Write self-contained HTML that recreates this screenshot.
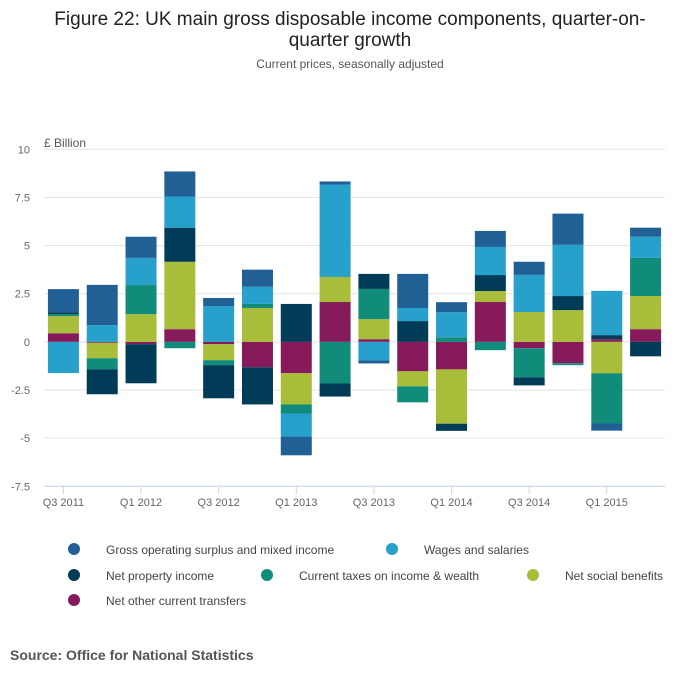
<!DOCTYPE html>
<html><head><meta charset="utf-8">
<style>
body{margin:0;background:#fff;font-family:"Liberation Sans","DejaVu Sans",sans-serif;}
#wrap{position:relative;width:700px;height:682px;overflow:hidden;}
</style></head>
<body>
<div id="wrap">
<svg id="chart" width="700" height="682">
<text x="350" y="25" text-anchor="middle" font-size="19" fill="#222">Figure 22: UK main gross disposable income components, quarter-on-</text>
<text x="350" y="46" text-anchor="middle" font-size="19" fill="#222">quarter growth</text>
<text x="350" y="68" text-anchor="middle" font-size="12" fill="#555">Current prices, seasonally adjusted</text>
<text x="44" y="147" font-size="12" fill="#555">£ Billion</text>
<g id="grid"></g><g id="bars"></g><g id="xlab"></g>
<g id="legend"></g>
<text x="10" y="660" font-size="14" font-weight="bold" fill="#555">Source: Office for National Statistics</text>
</svg>
</div>
<script>
const categories=["Q3 2011","Q4 2011","Q1 2012","Q2 2012","Q3 2012","Q4 2012","Q1 2013","Q2 2013","Q3 2013","Q4 2013","Q1 2014","Q2 2014","Q3 2014","Q4 2014","Q1 2015","Q2 2015"];
const gosValues=[1.2,2.09,1.1,1.3,0.42,0.89,-0.97,0.16,-0.16,1.77,0.52,0.83,0.68,1.62,-0.37,0.47];
const wagesValues=[-1.62,0.87,1.41,1.62,1.86,0.89,-1.2,4.8,-0.96,0.68,1.3,1.46,1.93,2.66,2.3,1.1];
const propertyValues=[0.1,-1.3,-2.03,1.77,-1.72,-1.93,1.97,-0.68,0.78,1.08,-0.37,0.83,-0.42,0.73,0.21,-0.75];
const taxesValues=[0.1,-0.57,1.51,-0.33,-0.26,0.21,-0.47,-2.16,1.57,-0.83,0.24,-0.43,-1.51,-0.1,-2.61,1.98];
const socialValues=[0.89,-0.8,1.44,3.5,-0.83,1.76,-1.62,1.3,1.04,-0.78,-2.82,0.57,1.55,1.65,-1.63,1.72];
const otherValues=[0.45,-0.05,-0.12,0.66,-0.12,-1.32,-1.63,2.07,0.14,-1.53,-1.43,2.07,-0.33,-1.11,0.14,0.66];
const yTicks=[10,7.5,5,2.5,0,-2.5,-5,-7.5];
const yTickLabels=["10","7.5","5","2.5","0","-2.5","-5","-7.5"];
const seriesNames=["Gross operating surplus and mixed income","Wages and salaries","Net property income","Current taxes on income & wealth","Net social benefits","Net other current transfers"];
const seriesColors=["#206095","#27a0cc","#003c57","#118c7b","#a8bd3a","#871a5b"];
const seriesData=[gosValues,wagesValues,propertyValues,taxesValues,socialValues,otherValues];
const NS="http://www.w3.org/2000/svg";
const x0=44,x1=665,yTop=149.3,yBot=486.3;
const y=v=>yTop+(10-v)*(yBot-yTop)/17.5;
const band=(x1-x0)/categories.length;
const xc=i=>x0+band*(i+0.5);
function mk(t,a){const e=document.createElementNS(NS,t);for(const k in a)e.setAttribute(k,a[k]);return e;}
const grid=document.getElementById('grid');
yTicks.forEach((t,i)=>{
 const l=mk('line',{x1:x0,x2:x1,y1:y(t),y2:y(t),stroke:'#e3e3e3','stroke-width':1});
 
 
 grid.appendChild(l);
 const tx=mk('text',{x:30,y:y(t)+4,'text-anchor':'end','font-size':11,fill:'#666'});
 tx.textContent=yTickLabels[i];
 
 
 grid.appendChild(tx);
});
const bars=document.getElementById('bars');
const bw=31;
categories.forEach((c,i)=>{
 let pos=0,neg=0;
 for(let s=seriesData.length-1;s>=0;s--){
  const v=seriesData[s][i];let a,b;
  if(v>=0){a=pos;b=pos+v;pos=b;}else{a=neg;b=neg+v;neg=b;}
  const r=mk('rect',{x:xc(i)-bw/2,y:Math.min(y(a),y(b)),width:bw,height:Math.abs(y(a)-y(b)),fill:seriesColors[s]});
  
  
  bars.appendChild(r);
 }
});
const xl=document.getElementById('xlab');
const axis=mk('line',{x1:x0,x2:x1,y1:yBot,y2:yBot,stroke:'#ccd6eb'});


xl.appendChild(axis);
categories.forEach((c,i)=>{
 if(i%2)return;
 const tk=mk('line',{x1:xc(i),x2:xc(i),y1:yBot,y2:yBot+8,stroke:'#ccd6eb'});
 
 
 xl.appendChild(tk);
 const t=mk('text',{x:xc(i),y:506,'text-anchor':'middle','font-size':11,fill:'#666'});
 t.textContent=c;
 
 
 xl.appendChild(t);
});
const lg=document.getElementById('legend');
const lpos=[[74,549],[392,549],[74,575],[267,575],[533,575],[74,600]];
seriesNames.forEach((n,s)=>{
 const [cx,cy]=lpos[s];
 const g=mk('g',{});
 
 
 g.appendChild(mk('circle',{cx:cx,cy:cy,r:6,fill:seriesColors[s]}));
 const t=mk('text',{x:cx+32,y:cy+5,'font-size':12,fill:'#444'});
 t.textContent=n;
 g.appendChild(t);
 lg.appendChild(g);
});
</script>
</body></html>
